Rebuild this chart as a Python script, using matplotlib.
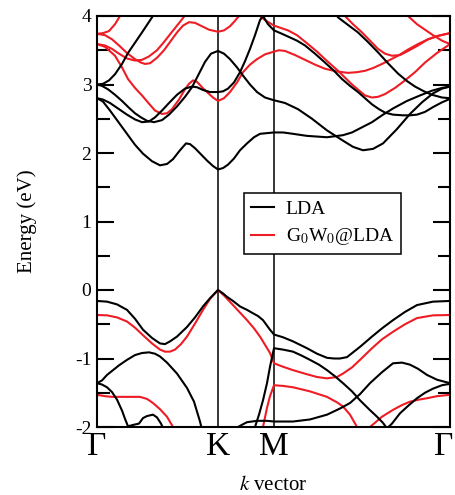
import matplotlib
matplotlib.use("Agg")
import matplotlib.pyplot as plt
from matplotlib.ticker import MultipleLocator
from matplotlib.transforms import ScaledTranslation

plt.rcParams["font.family"] = ["Liberation Serif", "DejaVu Serif"]
plt.rcParams["mathtext.fontset"] = "stix"
plt.rcParams["axes.unicode_minus"] = False

# high-symmetry points along the path
kpath_labels = ["Γ", "K", "M", "Γ"]
kpath_pos = [0, 121, 177, 353]

# ---------------- LDA bands (k, E in eV) ----------------
lda_c1 = [(0, 2.80), (6, 2.75), (13, 2.62), (20, 2.48), (30, 2.28), (38, 2.12), (46, 1.99), (55, 1.88),
          (63, 1.82), (70, 1.84), (76, 1.91), (83, 2.04), (89, 2.14), (93, 2.13), (98, 2.07), (104, 1.98),
          (110, 1.89), (116, 1.81), (121, 1.76), (126, 1.78), (131, 1.83), (137, 1.92), (143, 2.04),
          (150, 2.14), (157, 2.23), (163, 2.28), (170, 2.29), (177, 2.30), (186, 2.30), (196, 2.28),
          (210, 2.25), (230, 2.23), (246, 2.26), (255, 2.30), (263, 2.36), (275, 2.45), (285, 2.55),
          (296, 2.65), (310, 2.76), (323, 2.84), (335, 2.91), (345, 2.95), (353, 2.97)]
lda_c2 = [(0, 2.80), (6, 2.78), (13, 2.73), (22, 2.64), (30, 2.56), (38, 2.49), (45, 2.45), (52, 2.46),
          (58, 2.52), (65, 2.62), (72, 2.73), (80, 2.85), (88, 2.94), (95, 2.97), (100, 2.96), (106, 2.92),
          (113, 2.89), (121, 2.89), (126, 2.90), (131, 2.94), (137, 3.03), (143, 3.18), (148, 3.34),
          (153, 3.52), (158, 3.72), (163, 3.94), (166, 4.00), (171, 3.88), (177, 3.79), (185, 3.74),
          (191, 3.70), (200, 3.64), (208, 3.57), (218, 3.45), (228, 3.32), (237, 3.20), (245, 3.08),
          (253, 2.98), (261, 2.89), (268, 2.80), (275, 2.71), (282, 2.64), (288, 2.59), (296, 2.56),
          (306, 2.55), (313, 2.55), (320, 2.56), (328, 2.60), (336, 2.67), (345, 2.74), (353, 2.79)]
lda_c3 = [(0, 3.00), (5, 2.98), (11, 2.93), (18, 2.85), (25, 2.76), (32, 2.66), (38, 2.58), (44, 2.52),
          (50, 2.47), (57, 2.45), (65, 2.48), (72, 2.56), (80, 2.68), (88, 2.82), (95, 2.96), (101, 3.13),
          (108, 3.33), (114, 3.45), (121, 3.49), (127, 3.45), (133, 3.37), (140, 3.25), (146, 3.13),
          (153, 3.00), (160, 2.89), (168, 2.81), (177, 2.77), (188, 2.73), (201, 2.64), (215, 2.50),
          (230, 2.33), (246, 2.18), (256, 2.09), (266, 2.04), (276, 2.06), (286, 2.14), (300, 2.35),
          (313, 2.57), (325, 2.74), (336, 2.87), (345, 2.94), (353, 2.97)]
lda_c4 = [(0, 3.00), (6, 3.01), (12, 3.06), (18, 3.15), (25, 3.30), (31, 3.46), (38, 3.61), (45, 3.76),
          (50, 3.87), (55, 3.98), (62, 4.15), (75, 4.40), (100, 4.70), (177, 4.90), (225, 4.40),
          (241, 3.98), (251, 3.87), (261, 3.76), (271, 3.62), (281, 3.47), (291, 3.31), (301, 3.16),
          (310, 3.05), (318, 2.97), (327, 2.90), (335, 2.85), (345, 2.81), (353, 2.80)]
lda_v1 = [(0, -0.16), (10, -0.17), (20, -0.21), (30, -0.29), (38, -0.42), (46, -0.58), (55, -0.70),
          (63, -0.78), (68, -0.79), (73, -0.75), (80, -0.68), (90, -0.54), (98, -0.40), (106, -0.24),
          (113, -0.12), (121, 0.00), (126, -0.05), (130, -0.10), (136, -0.16), (143, -0.24), (150, -0.29),
          (156, -0.34), (161, -0.38), (166, -0.44), (170, -0.52), (173, -0.58), (177, -0.65), (186, -0.69),
          (196, -0.75), (210, -0.85), (220, -0.93), (230, -0.99), (237, -1.00), (243, -1.00), (250, -0.98),
          (263, -0.83), (275, -0.68), (285, -0.56), (296, -0.44), (308, -0.32), (320, -0.22), (336, -0.17),
          (353, -0.16)]
lda_v2 = [(0, -1.36), (5, -1.32), (10, -1.24), (16, -1.17), (22, -1.10), (30, -1.02), (38, -0.95),
          (45, -0.92), (52, -0.91), (58, -0.93), (63, -0.97), (70, -1.06), (80, -1.22), (90, -1.43),
          (97, -1.63), (103, -1.92), (106, -2.10), (121, -2.60), (145, -2.60), (156, -2.15), (158, -2.00),
          (162, -1.82), (166, -1.61), (170, -1.36), (173, -1.12), (177, -0.85), (186, -0.87), (196, -0.90),
          (205, -0.96), (213, -1.02), (222, -1.09), (230, -1.17), (238, -1.26), (246, -1.36), (255, -1.48),
          (263, -1.61), (272, -1.74), (280, -1.85), (286, -1.94), (290, -2.02), (295, -1.95), (303, -1.80),
          (312, -1.68), (320, -1.58), (328, -1.50), (336, -1.44), (345, -1.39), (353, -1.37)]
lda_v3 = [(0, -1.36), (5, -1.38), (10, -1.42), (15, -1.49), (20, -1.60), (25, -1.76), (28, -1.88),
          (31, -1.99), (36, -1.97), (42, -1.95), (46, -1.87), (50, -1.84), (56, -1.82), (60, -1.86),
          (64, -1.95), (67, -2.05), (75, -2.30), (135, -2.30), (141, -2.00), (146, -1.96), (150, -1.93),
          (160, -1.91), (170, -1.91), (177, -1.92), (196, -1.92), (213, -1.89), (230, -1.82), (243, -1.73),
          (253, -1.65), (263, -1.52), (273, -1.36), (285, -1.20), (296, -1.07), (305, -1.06), (313, -1.09),
          (321, -1.15), (330, -1.24), (340, -1.31), (353, -1.36)]

# ---------------- G0W0@LDA bands ----------------
gw_c1 = [(0, 3.59), (8, 3.55), (18, 3.42), (25, 3.25), (31, 3.08), (38, 2.95), (45, 2.84), (52, 2.72),
         (58, 2.62), (65, 2.57), (70, 2.58), (75, 2.64), (82, 2.78), (88, 2.93), (92, 3.01), (96, 3.06),
         (100, 3.04), (105, 2.96), (110, 2.89), (116, 2.81), (121, 2.76), (127, 2.80), (133, 2.89),
         (140, 3.03), (146, 3.18), (153, 3.29), (160, 3.37), (168, 3.44), (177, 3.48), (182, 3.50),
         (188, 3.49), (198, 3.43), (208, 3.36), (218, 3.29), (228, 3.23), (240, 3.19), (251, 3.17),
         (260, 3.18), (268, 3.20), (276, 3.24), (285, 3.30), (293, 3.36), (301, 3.42), (311, 3.51),
         (321, 3.59), (331, 3.66), (341, 3.71), (353, 3.75)]
gw_c2 = [(0, 3.74), (8, 3.72), (15, 3.66), (22, 3.57), (30, 3.46), (38, 3.37), (44, 3.32), (48, 3.30),
         (53, 3.31), (60, 3.39), (67, 3.50), (74, 3.64), (80, 3.76), (86, 3.86), (92, 3.91), (98, 3.90),
         (105, 3.85), (112, 3.80), (121, 3.77), (127, 3.79), (133, 3.85), (138, 3.93), (143, 4.02),
         (150, 4.25), (155, 4.30), (160, 4.08), (163, 4.00), (168, 3.94), (177, 3.86), (191, 3.79),
         (200, 3.72), (211, 3.59), (220, 3.48), (228, 3.37), (241, 3.20), (255, 3.00), (268, 2.84),
         (275, 2.81), (281, 2.82), (288, 2.86), (298, 2.95), (308, 3.06), (318, 3.18), (328, 3.32),
         (340, 3.46), (353, 3.59)]
gw_c3 = [(0, 3.59), (8, 3.57), (15, 3.52), (22, 3.45), (30, 3.38), (38, 3.35), (45, 3.36), (52, 3.41),
         (60, 3.50), (67, 3.62), (74, 3.75), (80, 3.86), (86, 3.97), (92, 4.10), (110, 4.40), (177, 4.80),
         (230, 4.30), (248, 4.00), (256, 3.88), (265, 3.76), (273, 3.64), (281, 3.52), (288, 3.45),
         (295, 3.42), (303, 3.43), (311, 3.49), (321, 3.57), (331, 3.66), (341, 3.71), (353, 3.75)]
gw_c4 = [(0, 3.74), (6, 3.75), (12, 3.78), (18, 3.88), (23, 4.00), (30, 4.20), (60, 4.60), (177, 5.00),
         (290, 4.50), (311, 4.00), (320, 3.88), (328, 3.80), (336, 3.72), (345, 3.64), (353, 3.59)]
gw_v1 = [(0, -0.365), (10, -0.37), (20, -0.40), (30, -0.46), (38, -0.55), (46, -0.66), (55, -0.78),
         (63, -0.87), (68, -0.90), (73, -0.90), (78, -0.87), (84, -0.79), (90, -0.68), (98, -0.49),
         (106, -0.29), (113, -0.13), (121, 0.00), (127, -0.08), (136, -0.22), (143, -0.33), (150, -0.44),
         (157, -0.56), (163, -0.68), (168, -0.80), (173, -0.92), (177, -1.07), (186, -1.12), (196, -1.17),
         (210, -1.23), (220, -1.27), (230, -1.29), (240, -1.27), (246, -1.22), (255, -1.13), (263, -1.02),
         (275, -0.85), (285, -0.72), (296, -0.61), (308, -0.50), (320, -0.41), (336, -0.37), (353, -0.365)]
gw_v2 = [(0, -1.53), (8, -1.55), (15, -1.56), (30, -1.56), (43, -1.56), (50, -1.59), (56, -1.65),
         (63, -1.74), (70, -1.85), (76, -2.00), (82, -2.20), (120, -2.70), (155, -2.60), (163, -2.20),
         (166, -2.00), (170, -1.72), (173, -1.55), (177, -1.39), (186, -1.40), (196, -1.42), (213, -1.48),
         (230, -1.56), (240, -1.64), (246, -1.70), (253, -1.82), (260, -2.00), (266, -2.12), (273, -2.00),
         (285, -1.85), (296, -1.75), (305, -1.68), (313, -1.63), (322, -1.60), (330, -1.58), (340, -1.55),
         (353, -1.53)]

lda_bands = [lda_c1, lda_c2, lda_c3, lda_c4, lda_v1, lda_v2, lda_v3]
gw_bands = [gw_c1, gw_c2, gw_c3, gw_c4, gw_v1, gw_v2]

lda_color = "black"
gw_color = "#ee1c24"

fig = plt.figure(figsize=(4.55, 4.95), dpi=100)
ax = fig.add_axes([97 / 455, 1 - 427 / 495, 353 / 455, 411 / 495])

for xv in kpath_pos[1:3]:
    ax.axvline(xv, color="black", lw=1.1, zorder=1)

for i, band in enumerate(lda_bands):
    ks, es = zip(*band)
    ax.plot(ks, es, color=lda_color, lw=1.5, zorder=3, label="LDA" if i == 0 else None)
for i, band in enumerate(gw_bands):
    ks, es = zip(*band)
    ax.plot(ks, es, color=gw_color, lw=1.5, zorder=2,
            label="G$_0$W$_0$@LDA" if i == 0 else None)

ax.set_xlim(kpath_pos[0], kpath_pos[-1])
ax.set_ylim(-2, 4)
ax.set_xticks(kpath_pos)
ax.set_xticklabels(kpath_labels, fontsize=24)
ax.tick_params(axis="x", length=0, pad=3)
# keep the last Γ inside the canvas
last = ax.get_xticklabels()[-1]
last.set_transform(last.get_transform() + ScaledTranslation(-6 / 100, 0, fig.dpi_scale_trans))

ax.yaxis.set_major_locator(MultipleLocator(1))
ax.yaxis.set_minor_locator(MultipleLocator(0.5))
ax.tick_params(axis="y", which="both", direction="in", left=True, right=True, width=1.5, labelsize=14, pad=4)
ax.tick_params(axis="y", which="major", length=12.5)
ax.tick_params(axis="y", which="minor", length=9)
for s in ax.spines.values():
    s.set_linewidth(1.5)

ax.set_ylabel("Energy (eV)", fontsize=15)
ax.yaxis.set_label_coords(-0.17, 0.5)
ax.set_xlabel("$k$ vector", fontsize=15)
ax.xaxis.set_label_coords(0.5, -0.12)

leg = ax.legend(loc="upper left", bbox_to_anchor=(0.416, 0.569), borderaxespad=0,
                fontsize=14, frameon=True, fancybox=False, handlelength=1.2,
                handletextpad=0.6, labelspacing=0.45, borderpad=0.35)
leg.get_frame().set_edgecolor("black")
leg.get_frame().set_linewidth(1.1)
leg.get_frame().set_alpha(1)

fig.savefig("out.png", dpi=100)
